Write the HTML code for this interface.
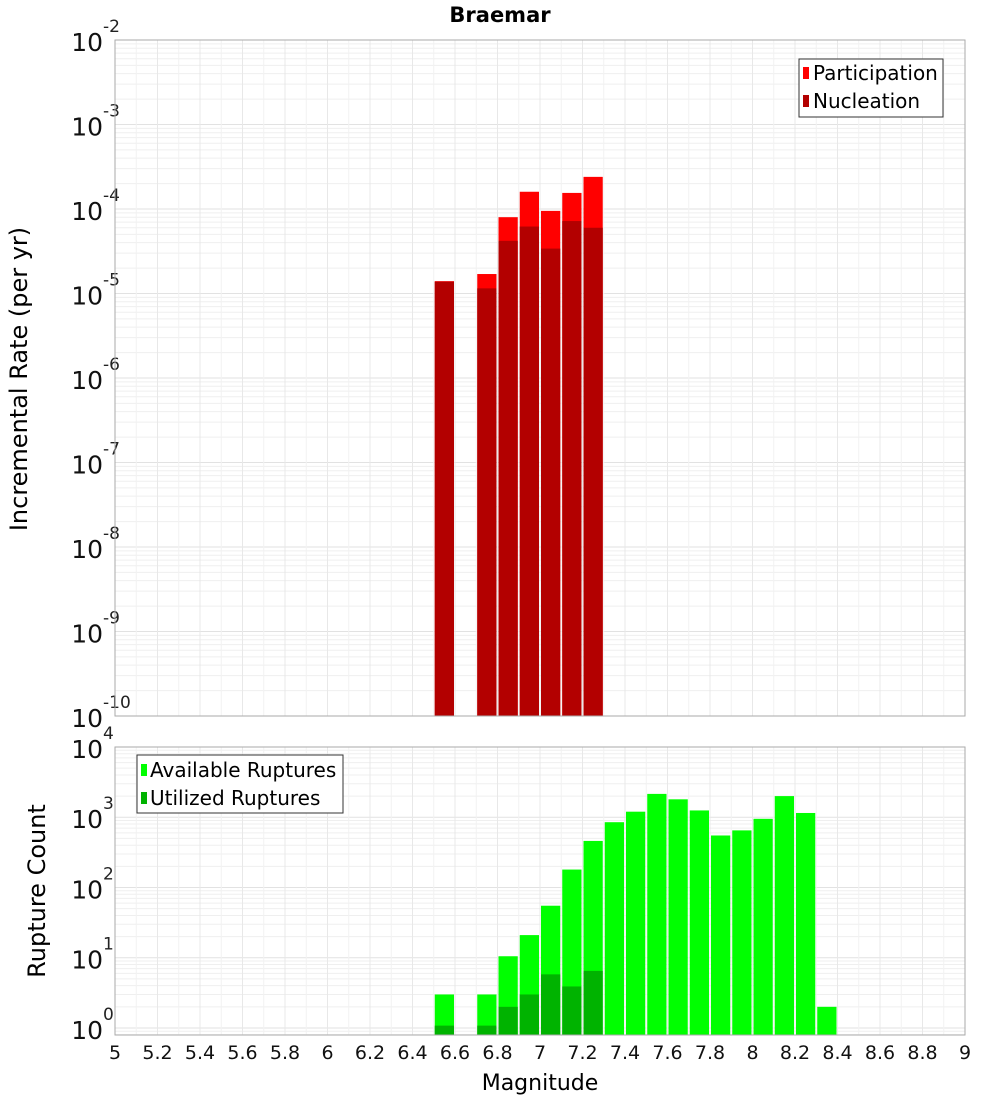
<!DOCTYPE html>
<html><head><meta charset="utf-8"><style>
body{margin:0;background:#fff;font-family:"Liberation Sans","DejaVu Sans",sans-serif}
svg text{font-family:"DejaVu Sans","Liberation Sans",sans-serif}
</style></head><body>
<svg id="c" width="1000" height="1100" xmlns="http://www.w3.org/2000/svg"></svg>
<script>
const binCenters=[6.55,6.75,6.85,6.95,7.05,7.15,7.25];
const participation=[1.4e-5,1.7e-5,8e-5,1.6e-4,9.5e-5,1.55e-4,2.4e-4];
const nucleation=[1.38e-5,1.15e-5,4.2e-5,6.2e-5,3.4e-5,7.2e-5,6e-5];
const countCenters=[6.55,6.75,6.85,6.95,7.05,7.15,7.25,7.35,7.45,7.55,7.65,7.75,7.85,7.95,8.05,8.15,8.25,8.35];
const available=[3,3,10.5,21,55,180,460,850,1200,2150,1800,1250,550,650,950,2000,1150,2];
const utilizedCenters=[6.55,6.75,6.85,6.95,7.05,7.15,7.25];
const utilized=[1.08,1.08,2,3,5.8,3.9,6.5];
const xTicks=[5,5.2,5.4,5.6,5.8,6,6.2,6.4,6.6,6.8,7,7.2,7.4,7.6,7.8,8,8.2,8.4,8.6,8.8,9];
const topExps=[-10,-9,-8,-7,-6,-5,-4,-3,-2];
const botExps=[0,1,2,3,4];

const svg=document.getElementById('c');const NS='http://www.w3.org/2000/svg';
function el(t,a,p){const e=document.createElementNS(NS,t);for(const k in a)e.setAttribute(k,a[k]);(p||svg).appendChild(e);return e;}
const L=115,R=965;
const X=v=>L+(v-5)/4*(R-L);
const P1={t:40,b:716,lo:-10,hi:-2};
const P2={t:747,b:1035,lo:-0.1,hi:4};
const Y=(P,v)=>P.b-(Math.log10(v)-P.lo)/(P.hi-P.lo)*(P.b-P.t);
const bw=(R-L)/40;

function panel(P,exps,name){
  const g=el('g',{},svg);
  
  
  for(let e=Math.floor(P.lo);e<P.hi;e++)for(let m=1;m<10;m++){const v=m*Math.pow(10,e);const y=Y(P,v);if(y<P.t-0.5||y>P.b+0.5)continue;
    el('line',{x1:L,x2:R,y1:y,y2:y,stroke:m==1?'#e2e2e2':'#efefef','stroke-width':1},g);}
  for(let i=0;i<=40;i++){const x=L+i*bw;el('line',{x1:x,x2:x,y1:P.t,y2:P.b,stroke:i%2==0?'#e8e8e8':'#f2f2f2','stroke-width':1},g);}
  exps.forEach(e=>{const y=Y(P,Math.pow(10,e));
    const t=el('text',{x:103,y:y+11,'font-size':25,'text-anchor':'end',fill:'#111'});
    
    
    t.textContent='10';
    const s=el('text',{x:103,y:y-8,'font-size':17,fill:'#222'});
    
    
    s.textContent=String(e);
  });
}
panel(P1,topExps,'rate-panel');
panel(P2,botExps,'count-panel');

function bars(P,cs,vs,fill,name){
  cs.forEach((c,i)=>{const y=Y(P,vs[i]);
    const r=el('rect',{x:X(c)-bw/2+1,y:y,width:bw-2,height:P.b-y,fill:fill});
    
    
  });
}
bars(P1,binCenters,participation,'#ff0000','participation-bar');
bars(P1,binCenters,nucleation,'#b30000','nucleation-bar');
bars(P2,countCenters,available,'#00ff00','available-bar');
bars(P2,utilizedCenters,utilized,'#00b300','utilized-bar');

[P1,P2].forEach((P,i)=>{const r=el('rect',{x:L,y:P.t,width:R-L,height:P.b-P.t,fill:'none',stroke:'#aaa','stroke-width':1});
  
  });

xTicks.forEach(v=>{const t=el('text',{x:X(v),y:1059,'font-size':19,'text-anchor':'middle',fill:'#111'});
  
  
  t.textContent=String(v);});
</script>
<svg style="position:absolute;left:0;top:0" width="1000" height="1100">
<text x="500" y="22" font-size="21" font-weight="bold" text-anchor="middle">Braemar</text>
<text x="540" y="1090" font-size="22" text-anchor="middle">Magnitude</text>
<text transform="translate(27,379) rotate(-90)" font-size="24" text-anchor="middle">Incremental Rate (per yr)</text>
<text transform="translate(45,891) rotate(-90)" font-size="24" text-anchor="middle">Rupture Count</text>
<g>
<rect x="799" y="59" width="144" height="58" fill="#fff" stroke="#333"/>
<rect x="803" y="67" width="6" height="12" fill="#ff0000"/>
<text x="813" y="80" font-size="20">Participation</text>
<rect x="803" y="95" width="6" height="12" fill="#b30000"/>
<text x="813" y="108" font-size="20">Nucleation</text>
</g>
<g>
<rect x="137" y="755" width="206" height="58" fill="#fff" stroke="#333"/>
<rect x="141" y="764" width="6" height="12" fill="#00ff00"/>
<text x="150" y="777" font-size="20">Available Ruptures</text>
<rect x="141" y="792" width="6" height="12" fill="#00b300"/>
<text x="150" y="805" font-size="20">Utilized Ruptures</text>
</g>
</svg>
</body></html>
